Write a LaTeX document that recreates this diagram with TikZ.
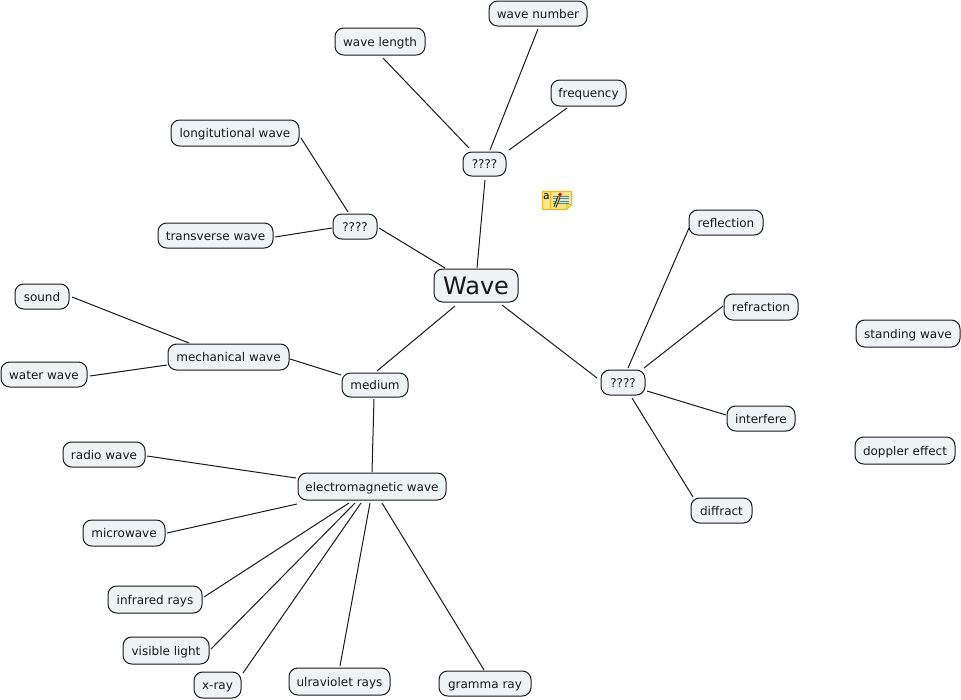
\documentclass[tikz,border=0pt]{standalone}
\usepackage{fontspec}
\setmainfont{DejaVu Sans}
\definecolor{nodefill}{HTML}{EEF3F5}
\definecolor{noteY}{HTML}{FFE68C}
\definecolor{noteB}{HTML}{EDBB22}
\definecolor{noteL}{HTML}{3F86C8}
\tikzset{
  mapbox/.style={draw=black!90,fill=nodefill,rounded corners=6.5,line width=0.75pt,inner sep=0pt,font=\fontsize{9pt}{11pt}\selectfont,text=black!90,text height=9.5pt,text depth=2.1pt},
  link/.style={draw=black!90,line width=0.75pt}
}
\newcommand{\bx}[6]{\node[mapbox,minimum width=#4*0.75pt,minimum height=#5*0.75pt] (#1) at (#2,#3) {#6};}
\newcommand{\conn}[4]{\draw[link] ([shift={(#2)}]#1.center) -- ([shift={(#4)}]#3.center);}
\begin{document}
\begin{tikzpicture}[x=0.75pt,y=-0.75pt]
\useasboundingbox (0,0) rectangle (961,700);
\bx{wl}{380}{41.5}{90}{27}{wave length}
\bx{wn}{538}{13.5}{98}{25}{wave number}
\bx{fr}{588.5}{93}{75}{26}{frequency}
\bx{qt}{484.5}{164}{43}{24}{????}
\bx{lw}{235}{133}{128}{26}{longitutional wave}
\bx{ql}{355}{226.5}{44}{25}{????}
\bx{tw}{215.5}{235.5}{115}{25}{transverse wave}
\node[mapbox,minimum width=84*0.75pt,minimum height=33*0.75pt,font=\fontsize{18pt}{22pt}\selectfont,text height=17pt,text depth=3pt] (wave) at (476,285.5) {Wave};
\bx{rl}{726}{222.5}{74}{25}{reflection}
\bx{rr}{761}{307}{74}{26}{refraction}
\bx{sw}{908}{333.5}{104}{27}{standing wave}
\bx{qr}{623}{382.5}{44}{25}{????}
\bx{in}{761}{418.5}{68}{25}{interfere}
\bx{de}{905}{450.5}{100}{27}{doppler effect}
\bx{di}{721.5}{510.5}{61}{25}{diffract}
\bx{so}{42}{296.5}{54}{25}{sound}
\bx{mw}{228.5}{357}{121}{26}{mechanical wave}
\bx{ww}{44}{374.5}{86}{25}{water wave}
\bx{me}{375}{385}{66}{24}{medium}
\bx{ra}{104}{454.5}{82}{25}{radio wave}
\bx{em}{372}{486.5}{148}{27}{electromagnetic wave}
\bx{mi}{124}{533}{82}{26}{microwave}
\bx{ir}{155}{599.5}{94}{27}{infrared rays}
\bx{vl}{166}{650.5}{86}{27}{visible light}
\bx{xr}{217.5}{685}{47}{26}{x-ray}
\bx{uv}{339.5}{681.5}{101}{27}{ulraviolet rays}
\bx{gr}{485}{683.5}{92}{25}{gramma ray}
\conn{wl}{3,16.5}{qt}{-15.5,-16}
\conn{wn}{0,15.5}{qt}{5.5,-14}
\conn{fr}{-21.5,15}{qt}{24.5,-14}
\conn{qt}{0.5,16}{wave}{1,-17.5}
\conn{lw}{66,5}{ql}{-7,-14.5}
\conn{tw}{59.5,1.5}{ql}{-23,1.5}
\conn{ql}{24,1.5}{wave}{-31,-17.5}
\conn{wave}{-21,20.5}{me}{2,-14}
\conn{wave}{26,19.5}{qr}{-26,-4.5}
\conn{rl}{-37,5.5}{qr}{5,-14.5}
\conn{rr}{-38,-1}{qr}{21,-14.5}
\conn{in}{-35,-3.5}{qr}{24,8.5}
\conn{di}{-28.5,-13.5}{qr}{9,15.5}
\conn{so}{30,0.5}{mw}{-39.5,-14}
\conn{ww}{46,1.5}{mw}{-61.5,8}
\conn{mw}{61.5,2}{me}{-34,-10}
\conn{me}{-1,14}{em}{0,-14.5}
\conn{ra}{43,1.5}{em}{-76,-8.5}
\conn{mi}{43,0}{em}{-75,17.5}
\conn{ir}{49,-2.5}{em}{-23,16.5}
\conn{vl}{45,-1.5}{em}{-17,16.5}
\conn{xr}{25.5,-12}{em}{-11,16.5}
\conn{uv}{0.5,-15.5}{em}{-2,16.5}
\conn{gr}{-1,-13.5}{em}{10,16.5}
% note icon
\fill[noteY,draw=noteB,line width=0.9pt] (542.5,191.5) -- (571.5,191.5) -- (571.5,204.5) -- (566.5,209.5) -- (542.5,209.5) -- cycle;
\draw[noteB,line width=0.6pt] (566.5,209.5) -- (566.5,204.5) -- (571.5,204.5);
\draw[noteB,line width=0.5pt] (550.5,192) -- (550.5,209);
\node[inner sep=0pt,font=\fontsize{8pt}{8pt}\selectfont,text=black] (ica) at (546.5,196.5) {a};
\foreach \yy in {196,198.5,201,203.5}{\draw[noteL,line width=0.7pt] (553,\yy) -- (569,\yy);}
\draw[black,line width=2.2pt] (555,207) -- (559,197);
\draw[noteB,line width=1.1pt] (555,207) -- (559,197);
\fill[red!75!black] (560,194.5) circle (1.8);
\end{tikzpicture}
\end{document}
